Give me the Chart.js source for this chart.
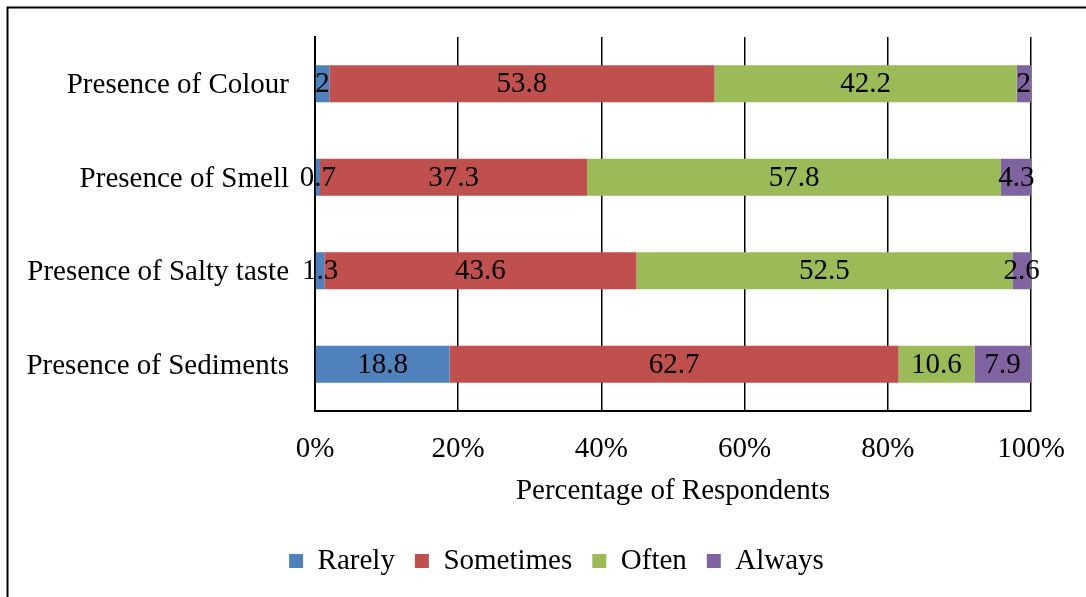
<!DOCTYPE html>
<html>
<head>
<meta charset="utf-8">
<title>Water quality perception</title>
<script src="https://cdn.jsdelivr.net/npm/chart.js@4.4.1/dist/chart.umd.min.js"></script>
<style>
  html, body { margin: 0; padding: 0; background: #fff; }
  #wrap { position: relative; width: 1086px; height: 597px; }
</style>
</head>
<body>
<div id="wrap"><canvas id="chart" width="1086" height="597"></canvas></div>
<script>
// Categories (top to bottom) and response shares per frequency
const categories = ['Presence of Colour', 'Presence of Smell', 'Presence of Salty taste', 'Presence of Sediments'];
const rarely    = [2, 0.7, 1.3, 18.8];
const sometimes = [53.8, 37.3, 43.6, 62.7];
const often     = [42.2, 57.8, 52.5, 10.6];
const always    = [2, 4.3, 2.6, 7.9];
const xTicks    = [0, 20, 40, 60, 80, 100];

const FONT = { family: '"Liberation Serif", "Times New Roman", serif', size: 29 };

Chart.defaults.color = '#000';
Chart.defaults.font = { ...FONT };

// Outer frame (top and left edges)
const framePlugin = {
  id: 'frame',
  beforeDraw(chart) {
    const ctx = chart.ctx;
    ctx.save();
    ctx.fillStyle = '#fff';
    ctx.fillRect(0, 0, chart.width, chart.height);
    ctx.strokeStyle = '#000';
    ctx.lineWidth = 2;
    ctx.beginPath();
    ctx.moveTo(7.5, chart.height);
    ctx.lineTo(7.5, 7.5);
    ctx.lineTo(chart.width, 7.5);
    ctx.stroke();
    ctx.restore();
  }
};

// Narrow the legend box so the legend row sits centred under the plot
const legendBox = {
  id: 'legendBox',
  afterLayout(chart) {
    const lg = chart.legend;
    if (!lg) return;
    lg.left = 82;
    lg.right = chart.chartArea.right;
    lg.width = lg.right - lg.left;
  }
};

// Value labels centred on each bar segment
const valueLabels = {
  id: 'valueLabels',
  afterDatasetsDraw(chart) {
    const ctx = chart.ctx;
    ctx.save();
    ctx.font = `${FONT.size}px ${FONT.family}`;
    ctx.fillStyle = '#000';
    ctx.textAlign = 'center';
    ctx.textBaseline = 'middle';
    chart.data.datasets.forEach((ds, di) => {
      const meta = chart.getDatasetMeta(di);
      meta.data.forEach((bar, i) => {
        const p = bar.getProps(['x', 'y', 'base'], true);
        ctx.fillText(String(ds.data[i]), (p.x + p.base) / 2, p.y + 1);
      });
    });
    ctx.restore();
  }
};

new Chart(document.getElementById('chart'), {
  type: 'bar',
  data: {
    labels: categories,
    datasets: [
      { label: 'Rarely',    data: rarely,    backgroundColor: '#4F81BD' },
      { label: 'Sometimes', data: sometimes, backgroundColor: '#C0504D' },
      { label: 'Often',     data: often,     backgroundColor: '#9BBB59' },
      { label: 'Always',    data: always,    backgroundColor: '#8064A2' }
    ]
  },
  options: {
    indexAxis: 'y',
    responsive: false,
    animation: false,
    layout: { padding: { left: 10, right: 55, top: 37, bottom: 11.5 } },
    datasets: { bar: { categoryPercentage: 1, barPercentage: 0.396, borderWidth: 0 } },
    scales: {
      x: {
        stacked: true,
        min: 0,
        max: 100,
        afterBuildTicks(scale) { scale.ticks = xTicks.map(v => ({ value: v })); },
        afterFit(scale) {
          scale.height = 115.5;
          scale.paddingLeft = 0;
          scale.paddingRight = 0;
        },
        ticks: { padding: 21, font: FONT, callback: v => v + '%' },
        grid: { color: '#000', lineWidth: 1.5, drawTicks: false },
        border: { display: true, color: '#000', width: 2 },
        title: { display: true, text: 'Percentage of Respondents', font: FONT, padding: { top: 0, bottom: 18 } }
      },
      y: {
        stacked: true,
        afterFit(scale) {
          scale.width = 305;
          scale.paddingTop = 0;
          scale.paddingBottom = 0;
        },
        ticks: { padding: 26, labelOffset: 2, font: FONT },
        grid: { display: false, drawTicks: false },
        border: { display: true, color: '#000', width: 2 }
      }
    },
    plugins: {
      legend: {
        position: 'bottom',
        labels: { font: FONT, boxWidth: 14, boxHeight: 14, padding: 20 }
      },
      tooltip: { enabled: false }
    }
  },
  plugins: [framePlugin, legendBox, valueLabels]
});
</script>
</body>
</html>
